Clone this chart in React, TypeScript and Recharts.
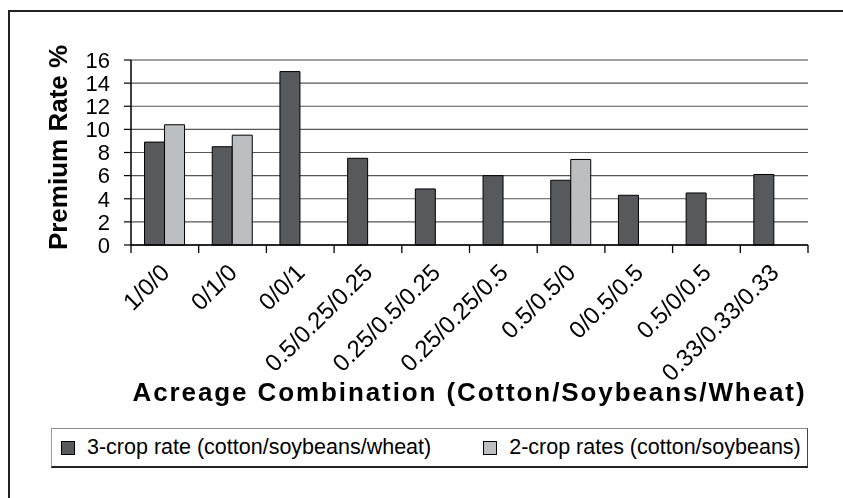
import React from 'react';
import { BarChart, Bar, XAxis, YAxis, CartesianGrid, ReferenceLine } from 'recharts';

const categories = [
  '1/0/0',
  '0/1/0',
  '0/0/1',
  '0.5/0.25/0.25',
  '0.25/0.5/0.25',
  '0.25/0.25/0.5',
  '0.5/0.5/0',
  '0/0.5/0.5',
  '0.5/0/0.5',
  '0.33/0.33/0.33',
];
const threeCropRate = [8.9, 8.5, 15.0, 7.5, 4.85, 6.0, 5.6, 4.3, 4.5, 6.1];
const twoCropRate: (number | null)[] = [10.4, 9.5, null, null, null, null, 7.4, null, null, null];
const yTicks = [0, 2, 4, 6, 8, 10, 12, 14, 16];
const seriesNames = ['3-crop rate (cotton/soybeans/wheat)', '2-crop rates (cotton/soybeans)'];
const yAxisTitle = 'Premium Rate %';
const xAxisTitle = 'Acreage Combination (Cotton/Soybeans/Wheat)';

const data = categories.map((c, i) => ({ category: c, three: threeCropRate[i], two: twoCropRate[i] }));

const FONT = '"Liberation Sans", Arial, Helvetica, sans-serif';
const DARK = '#58595b';
const LIGHT = '#bdbec0';
const CHART_W = 827;
const CHART_H = 420;
const MARGIN = { top: 52, right: 27, bottom: 0, left: 43 };
const Y_AXIS_W = 80;
const PLOT_W = CHART_W - MARGIN.left - MARGIN.right - Y_AXIS_W;
const X_AXIS_H = 183;
const TICK_SIZE = 8;
const TICK_MARGIN = 2;
const band = PLOT_W / categories.length;

function XTick(props: any) {
  const { x, y, payload, index } = props;
  const axisY = y - TICK_SIZE - TICK_MARGIN;
  const ax = x + 6;
  const ay = axisY + 29;
  return (
    <g>
      <line x1={x - band / 2} y1={axisY} x2={x - band / 2} y2={axisY + TICK_SIZE} stroke="#000" strokeWidth={1.3} />
      {index === categories.length - 1 && (
        <line x1={x + band / 2} y1={axisY} x2={x + band / 2} y2={axisY + TICK_SIZE} stroke="#000" strokeWidth={1.3} />
      )}
      <text
        x={ax}
        y={ay}
        transform={`rotate(-45 ${ax} ${ay})`}
        textAnchor="end"
        fontSize={24}
        fontFamily={FONT}
        fill="#000"
      >
        {payload.value}
      </text>
    </g>
  );
}

function YTitle(props: any) {
  const vb = props.viewBox || { x: 43, y: 52, width: 80, height: 185 };
  const x = vb.x + 16;
  const y = vb.y + vb.height / 2 - 5;
  return (
    <text
      x={x}
      y={y}
      transform={`rotate(-90 ${x} ${y})`}
      textAnchor="middle"
      fontSize={26}
      fontWeight="bold"
      fontFamily={FONT}
      fill="#000"
    >
      {yAxisTitle}
    </text>
  );
}

function XTitle(props: any) {
  const vb = props.viewBox || { x: 123, y: 237, width: PLOT_W, height: X_AXIS_H };
  const x = vb.x + vb.width / 2;
  const y = vb.y + 156;
  return (
    <text
      x={x}
      y={y}
      textAnchor="middle"
      fontSize={26}
      fontWeight="bold"
      fontFamily={FONT}
      letterSpacing={1.9}
      fill="#000"
    >
      {xAxisTitle}
    </text>
  );
}

function LegendBox() {
  const colors = [DARK, LIGHT];
  return (
    <div
      style={{
        position: 'absolute',
        left: MARGIN.left,
        top: CHART_H,
        width: PLOT_W + Y_AXIS_W,
        height: 40,
        boxSizing: 'border-box',
        borderTop: '1px solid #8a8a8a',
        borderLeft: '1px solid #9a9a9a',
        borderRight: '1px solid #444',
        borderBottom: '2px solid #222',
        display: 'flex',
        alignItems: 'center',
        paddingLeft: 9,
        fontFamily: FONT,
        fontSize: 21.5,
        color: '#000',
        background: '#fff',
      }}
    >
      {seriesNames.map((n, i) => (
        <div key={n} style={{ display: 'flex', alignItems: 'center', marginLeft: i === 0 ? 0 : 52 }}>
          <div
            style={{
              width: 14,
              height: 14,
              boxSizing: 'border-box',
              border: '1px solid #000',
              background: colors[i],
              marginRight: 12,
            }}
          />
          <span style={{ whiteSpace: 'nowrap' }}>{n}</span>
        </div>
      ))}
    </div>
  );
}

export default function App() {
  return (
    <div style={{ position: 'relative', width: CHART_W, height: 480, background: '#fff' }}>
      <div
        style={{
          position: 'fixed',
          left: 8,
          top: 10,
          width: 1200,
          height: 1200,
          borderLeft: '2px solid #222',
          borderTop: '2px solid #222',
          pointerEvents: 'none',
        }}
      />
      <BarChart
        width={CHART_W}
        height={CHART_H}
        data={data}
        margin={MARGIN}
        barGap={0}
        barCategoryGap="20%"
      >
        <CartesianGrid vertical={false} stroke="#555" strokeWidth={1.2} />
        <XAxis
          dataKey="category"
          interval={0}
          height={X_AXIS_H}
          tickSize={TICK_SIZE}
          tickMargin={TICK_MARGIN}
          tickLine={false}
          axisLine={{ stroke: '#000', strokeWidth: 1.5 }}
          tick={<XTick />}
          label={(p: any) => <XTitle {...p} />}
        />
        <YAxis
          width={Y_AXIS_W}
          domain={[0, 16]}
          ticks={yTicks}
          interval={0}
          tickSize={7}
          tickMargin={14}
          axisLine={{ stroke: '#000', strokeWidth: 1.5 }}
          tickLine={{ stroke: '#000', strokeWidth: 1.2 }}
          tick={{ fontSize: 22, fill: '#000', fontFamily: FONT }}
          label={(p: any) => <YTitle {...p} />}
        />
        <YAxis
          yAxisId="right"
          orientation="right"
          width={0}
          domain={[0, 16]}
          tick={false}
          tickLine={false}
          axisLine={{ stroke: '#a8a8a8', strokeWidth: 2 }}
        />
        <ReferenceLine y={16} stroke="#a0a0a0" strokeWidth={2} />
        <Bar dataKey="three" name={seriesNames[0]} fill={DARK} stroke="#000" strokeWidth={1} isAnimationActive={false} />
        <Bar dataKey="two" name={seriesNames[1]} fill={LIGHT} stroke="#000" strokeWidth={1} isAnimationActive={false} />
      </BarChart>
      <LegendBox />
    </div>
  );
}
